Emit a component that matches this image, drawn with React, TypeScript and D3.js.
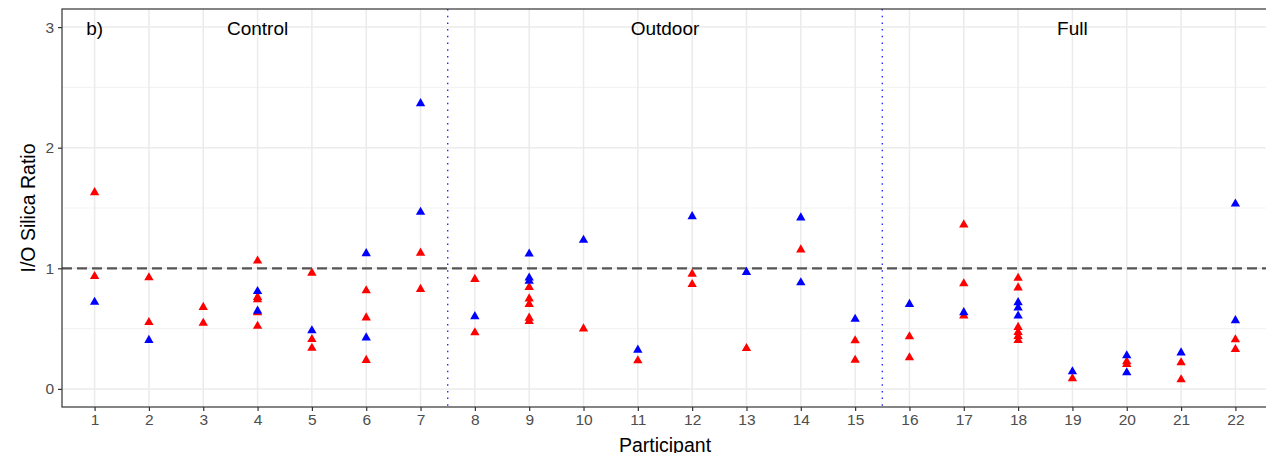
import React, { useEffect, useRef } from 'react';
import * as d3 from 'd3';

// participant ids on the x axis
const participants = [
  1, 2, 3, 4, 5, 6, 7, 8, 9, 10, 11, 12, 13, 14, 15, 16, 17, 18, 19, 20, 21, 22,
];

// red triangles, one list per participant
const redValues = [
  [1.635, 0.94],
  [0.93, 0.558],
  [0.684, 0.552],
  [1.068, 0.767, 0.748, 0.64, 0.527],
  [0.968, 0.417, 0.345],
  [0.822, 0.597, 0.244],
  [1.134, 0.833],
  [0.916, 0.473],
  [0.85, 0.754, 0.709, 0.595, 0.567],
  [0.506],
  [0.241],
  [0.96, 0.874],
  [0.343],
  [1.161],
  [0.407, 0.246],
  [0.44, 0.266],
  [1.368, 0.88, 0.613],
  [0.925, 0.846, 0.518, 0.476, 0.443, 0.409],
  [0.093],
  [0.233, 0.211],
  [0.225, 0.084],
  [0.415, 0.335],
];

// blue triangles, one list per participant
const blueValues = [
  [0.726],
  [0.41],
  [],
  [0.816, 0.653],
  [0.49],
  [1.13, 0.431],
  [2.373, 1.473],
  [0.607],
  [1.126, 0.927, 0.9],
  [1.241],
  [0.329],
  [1.436],
  [0.974],
  [1.426, 0.888],
  [0.585],
  [0.709],
  [0.64],
  [0.723, 0.679, 0.612],
  [0.15],
  [0.283, 0.142],
  [0.307],
  [1.541, 0.574],
];

const yTicks = [0, 1, 2, 3];
const yMinor = [0.5, 1.5, 2.5];
const groupLabels = ['Control', 'Outdoor', 'Full'];
const groupCenters = [4, 11.5, 19];
const groupBreaks = [7.5, 15.5];
const refLine = 1;
const panelTag = 'b)';

const W = 1266;
const H = 453;

export default function App() {
  const ref = useRef<SVGGElement>(null);

  useEffect(() => {
    const g = d3.select(ref.current);
    g.selectAll('*').remove();

    const margin = { top: 9, left: 62 };
    const plotW = 1206;
    const plotH = 398;
    const font = 'Liberation Sans, Arial, sans-serif';

    const x = d3.scaleLinear().domain([0.4, 22.6]).range([0, plotW]);
    const y = d3.scaleLinear().domain([-0.15, 3.15]).range([plotH, 0]);

    const graph = g
      .append('g')
      .attr('transform', `translate(${margin.left}, ${margin.top})`);

    graph
      .append('rect')
      .attr('width', plotW)
      .attr('height', plotH)
      .attr('fill', '#fff');

    // minor grid
    graph
      .selectAll('.ymin')
      .data(yMinor)
      .enter()
      .append('line')
      .attr('x1', 0)
      .attr('x2', plotW)
      .attr('y1', d => y(d))
      .attr('y2', d => y(d))
      .attr('stroke', '#f3f3f3')
      .attr('stroke-width', 1.2);

    // major grid
    graph
      .selectAll('.ymaj')
      .data(yTicks)
      .enter()
      .append('line')
      .attr('x1', 0)
      .attr('x2', plotW)
      .attr('y1', d => y(d))
      .attr('y2', d => y(d))
      .attr('stroke', '#ebebeb')
      .attr('stroke-width', 1.5);

    graph
      .selectAll('.xmaj')
      .data(participants)
      .enter()
      .append('line')
      .attr('x1', d => x(d))
      .attr('x2', d => x(d))
      .attr('y1', 0)
      .attr('y2', plotH)
      .attr('stroke', '#ebebeb')
      .attr('stroke-width', 1.5);

    // reference line at 1
    graph
      .append('line')
      .attr('x1', 0)
      .attr('x2', plotW)
      .attr('y1', y(refLine))
      .attr('y2', y(refLine))
      .attr('stroke', '#555')
      .attr('stroke-width', 2.2)
      .attr('stroke-dasharray', '10,5');

    // group separators
    graph
      .selectAll('.sep')
      .data(groupBreaks)
      .enter()
      .append('line')
      .attr('x1', d => x(d))
      .attr('x2', d => x(d))
      .attr('y1', 0)
      .attr('y2', plotH)
      .attr('stroke', '#2a2aff')
      .attr('stroke-width', 1.4)
      .attr('stroke-dasharray', '1.5,5.2');

    const tri = d3.symbol().type(d3.symbolTriangle).size(38);

    const points = (vals: number[][], color: string) => {
      const pts: { p: number; v: number }[] = [];
      vals.forEach((arr, i) => arr.forEach(v => pts.push({ p: participants[i], v })));
      graph
        .append('g')
        .selectAll('path')
        .data(pts)
        .enter()
        .append('path')
        .attr('d', tri)
        .attr('transform', d => `translate(${x(d.p)}, ${y(d.v) + 0.8})`)
        .attr('fill', color);
    };
    points(redValues, '#ff0000');
    points(blueValues, '#0000ff');

    // group labels
    graph
      .selectAll('.grp')
      .data(groupLabels)
      .enter()
      .append('text')
      .attr('x', (d, i) => x(groupCenters[i]))
      .attr('y', y(3) + 7.5)
      .attr('text-anchor', 'middle')
      .attr('font-family', font)
      .attr('font-size', 19)
      .attr('fill', '#000')
      .text(d => d);

    graph
      .append('text')
      .attr('x', x(1))
      .attr('y', y(3) + 7.5)
      .attr('text-anchor', 'middle')
      .attr('font-family', font)
      .attr('font-size', 19)
      .attr('fill', '#000')
      .text(panelTag);

    // panel border
    graph
      .append('rect')
      .attr('width', plotW)
      .attr('height', plotH)
      .attr('fill', 'none')
      .attr('stroke', '#333')
      .attr('stroke-width', 1.2);

    // axes
    const xAxis = d3
      .axisBottom(x)
      .tickValues(participants)
      .tickSize(4)
      .tickSizeOuter(0)
      .tickPadding(3)
      .tickFormat(d => String(d));
    const yAxis = d3
      .axisLeft(y)
      .tickValues(yTicks)
      .tickSize(4)
      .tickSizeOuter(0)
      .tickPadding(4)
      .tickFormat(d => String(d));

    const xg = graph.append('g').attr('transform', `translate(0, ${plotH})`).call(xAxis);
    const yg = graph.append('g').call(yAxis);
    [xg, yg].forEach(a => {
      a.select('.domain').remove();
      a.selectAll('line').attr('stroke', '#333').attr('stroke-width', 1.2);
      a.selectAll('text')
        .attr('fill', '#4d4d4d')
        .attr('font-family', font)
        .attr('font-size', 15.5);
    });

    // axis titles
    g.append('text')
      .attr('x', margin.left + x(11.5))
      .attr('y', 452)
      .attr('text-anchor', 'middle')
      .attr('font-family', font)
      .attr('font-size', 19.5)
      .attr('fill', '#000')
      .text('Participant');

    g.append('text')
      .attr('transform', `translate(35, ${margin.top + plotH / 2}) rotate(-90)`)
      .attr('text-anchor', 'middle')
      .attr('font-family', font)
      .attr('font-size', 19.5)
      .attr('fill', '#000')
      .text('I/O Silica Ratio');
  }, []);

  return (
    <svg
      width={W}
      height={H}
      style={{ position: 'absolute', left: 0, top: 0, background: '#fff' }}
    >
      <g ref={ref} />
    </svg>
  );
}
